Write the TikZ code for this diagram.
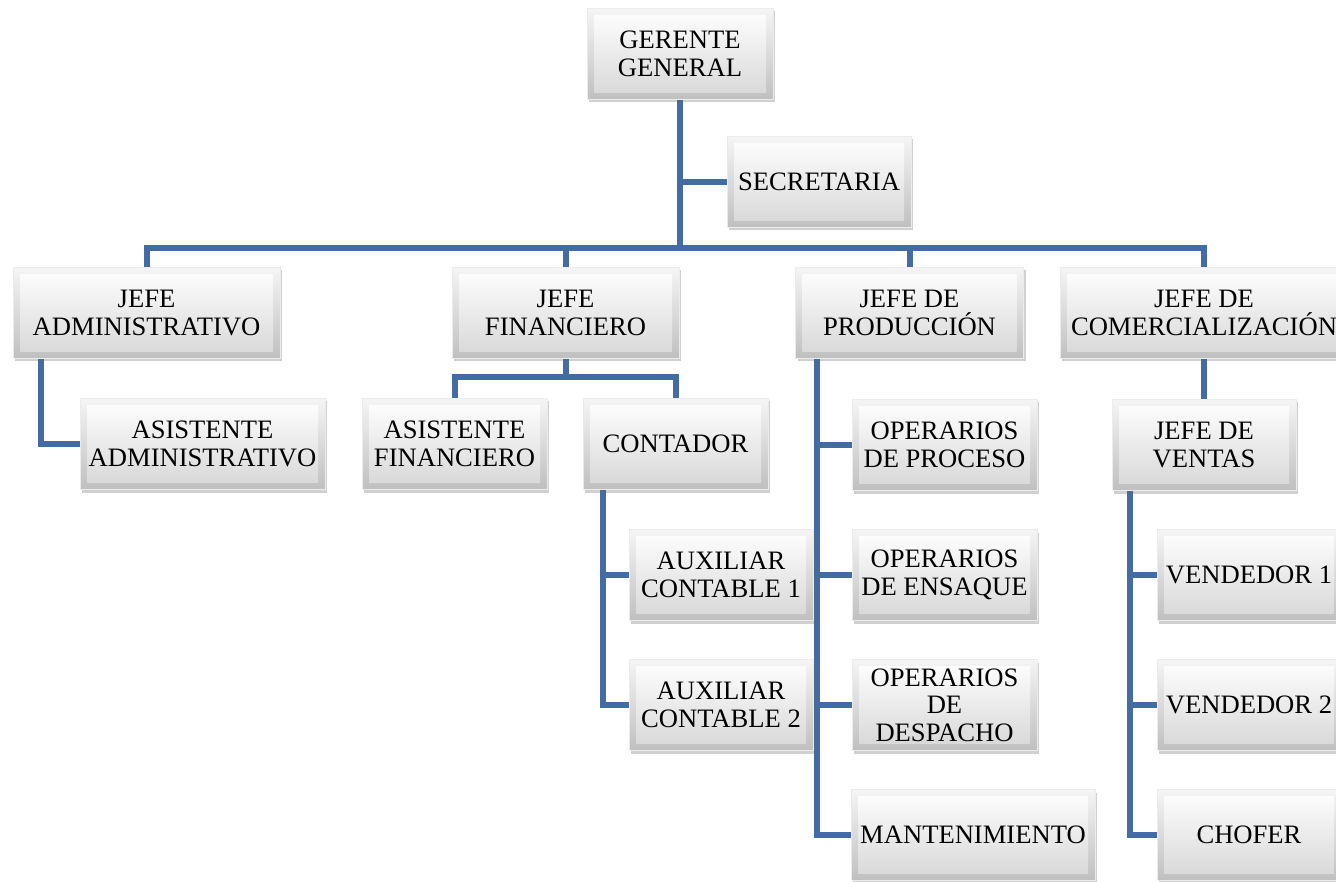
\documentclass[tikz,border=0pt]{standalone}
\usepackage{fontspec}
\setmainfont{Liberation Serif}
\usetikzlibrary{shadows,backgrounds}
\definecolor{connblue}{RGB}{66,108,163}
\tikzset{
  box/.style={rectangle, inner sep=0pt, align=center,
    font=\fontsize{26.6}{27.5}\selectfont, minimum height=91pt,
    top color=gray!8, bottom color=gray!50, draw=white!85!gray, line width=0.8pt,
    drop shadow={shadow xshift=2pt, shadow yshift=-3pt, opacity=0.3, fill=black!60},
    path picture={\shade[top color=white, bottom color=gray!32]
      ([xshift=7pt,yshift=-7pt]path picture bounding box.north west) rectangle
      ([xshift=-7pt,yshift=7pt]path picture bounding box.south east);}},
  link/.style={draw=connblue, line width=6pt, line join=miter},
}
\begin{document}
\begin{tikzpicture}[x=1pt,y=-1pt]
\useasboundingbox (0,0) rectangle (1336,882);
% nodes
\node[box, minimum width=186pt] (ger)  at (680,54)    {GERENTE\\GENERAL};
\node[box, minimum width=184pt] (sec)  at (819,182)   {SECRETARIA};
\node[box, minimum width=267pt] (jadm) at (146.5,313) {JEFE\\ADMINISTRATIVO};
\node[box, minimum width=227pt] (jfin) at (565.5,313) {JEFE\\FINANCIERO};
\node[box, minimum width=228pt] (jprod) at (909.5,313) {JEFE DE\\PRODUCCIÓN};
\node[box, minimum width=288pt] (jcom) at (1204,313)  {JEFE DE\\COMERCIALIZACIÓN};
\node[box, minimum width=245pt] (aadm) at (202.5,444) {ASISTENTE\\ADMINISTRATIVO};
\node[box, minimum width=185pt] (afin) at (454.5,444) {ASISTENTE\\FINANCIERO};
\node[box, minimum width=185pt] (cont) at (675.5,444) {CONTADOR};
\node[box, minimum width=184pt] (aux1) at (721,575)   {AUXILIAR\\CONTABLE 1};
\node[box, minimum width=184pt] (aux2) at (721,705)   {AUXILIAR\\CONTABLE 2};
\node[box, minimum width=185pt] (opp)  at (944.5,445) {OPERARIOS\\DE PROCESO};
\node[box, minimum width=185pt] (ope)  at (944.5,575) {OPERARIOS\\DE ENSAQUE};
\node[box, minimum width=185pt] (opd)  at (944.5,705) {OPERARIOS\\DE\\DESPACHO};
\node[box, minimum width=244pt] (mant) at (973,835)   {MANTENIMIENTO};
\node[box, minimum width=184pt] (jven) at (1204,445)  {JEFE DE\\VENTAS};
\node[box, minimum width=184pt] (v1)   at (1249,575)  {VENDEDOR 1};
\node[box, minimum width=184pt] (v2)   at (1249,705)  {VENDEDOR 2};
\node[box, minimum width=184pt] (chof) at (1249,835)  {CHOFER};
% connectors
\coordinate (bus) at (680,248);
\coordinate (fbus) at (565.5,377);
\begin{pgfonlayer}{background}
\fill[white] (0,0) rectangle (1336,882);
\draw[link] (ger.south) -- (bus);
\draw[link] (ger.south) |- (sec.west);
\draw[link] (bus) -| (jadm.north);
\draw[link] (bus) -| (jfin.north);
\draw[link] (bus) -| (jprod.north);
\draw[link] (bus) -| (jcom.north);
\draw[link] ([xshift=28pt]jadm.south west) |- (aadm.west);
\draw[link] (jfin.south) -- (fbus);
\draw[link] (fbus) -| (afin.north);
\draw[link] (fbus) -| (cont.north);
\draw[link] ([xshift=20pt]cont.south west) |- (aux1.west);
\draw[link] ([xshift=20pt]cont.south west) |- (aux2.west);
\draw[link] ([xshift=22pt]jprod.south west) |- (opp.west);
\draw[link] ([xshift=22pt]jprod.south west) |- (ope.west);
\draw[link] ([xshift=22pt]jprod.south west) |- (opd.west);
\draw[link] ([xshift=22pt]jprod.south west) |- (mant.west);
\draw[link] (jcom.south) -- (jven.north);
\draw[link] ([xshift=18pt]jven.south west) |- (v1.west);
\draw[link] ([xshift=18pt]jven.south west) |- (v2.west);
\draw[link] ([xshift=18pt]jven.south west) |- (chof.west);
\end{pgfonlayer}
\end{tikzpicture}
\end{document}
